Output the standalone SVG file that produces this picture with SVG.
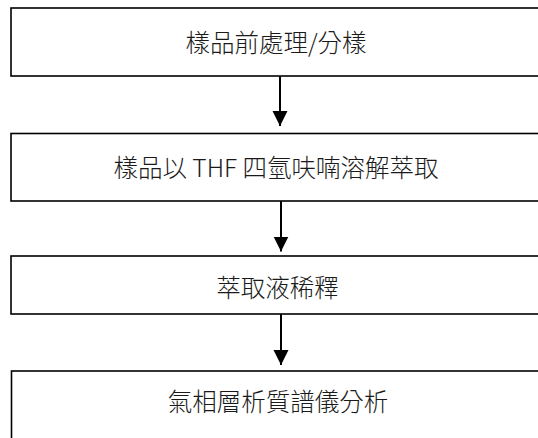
<svg xmlns="http://www.w3.org/2000/svg" width="538" height="438" viewBox="0 0 538 438">
<style>
.box{fill:#fff;stroke:#000;stroke-width:1.6}
.lbl{font-family:"Noto Sans CJK TC","Noto Sans CJK SC",sans-serif;font-size:24.5px;font-weight:300;fill:#1a1a1a;text-anchor:middle}
.conn{stroke:#000;stroke-width:2;fill:none}
</style>
<defs>
<marker id="arr" markerUnits="userSpaceOnUse" markerWidth="16" markerHeight="16" viewBox="0 0 16 16" refX="15" refY="8" orient="auto">
<path d="M0,0.5 L15,8 L0,15.5 Z" fill="#000"/>
</marker>
</defs>
<rect width="538" height="438" fill="#fff"/>
<g id="connectors">
<line class="conn" x1="280" y1="76" x2="280" y2="126" marker-end="url(#arr)"/>
<line class="conn" x1="281" y1="201" x2="281" y2="251.5" marker-end="url(#arr)"/>
<line class="conn" x1="281" y1="314" x2="281" y2="365" marker-end="url(#arr)"/>
</g>
<g id="node1">
<rect class="box" x="11" y="8" width="540" height="68"/>
<text class="lbl" x="276" y="51.5">樣品前處理/分樣</text>
</g>
<g id="node2">
<rect class="box" x="11" y="133.5" width="540" height="67.5"/>
<text class="lbl" x="276" y="176.5">樣品以 THF 四氫呋喃溶解萃取</text>
</g>
<g id="node3">
<rect class="box" x="11" y="256" width="540" height="58"/>
<text class="lbl" x="277.5" y="297">萃取液稀釋</text>
</g>
<g id="node4">
<rect class="box" x="11.5" y="371" width="540" height="80"/>
<text class="lbl" x="278" y="410.5">氣相層析質譜儀分析</text>
</g>
</svg>
